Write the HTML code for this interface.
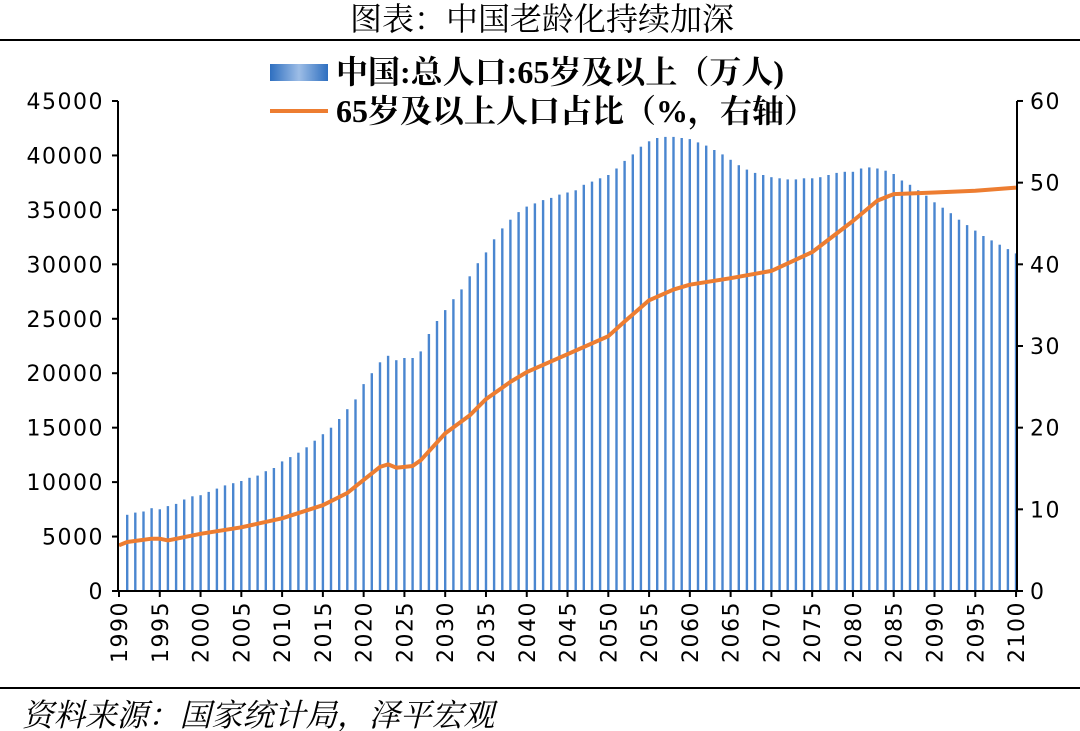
<!DOCTYPE html>
<html><head><meta charset="utf-8"><style>
body{margin:0;background:#fff;width:1080px;height:731px;overflow:hidden}
svg{display:block}
</style></head><body>
<svg id="s" width="1080" height="731" xmlns="http://www.w3.org/2000/svg" font-family="'DejaVu Sans','Noto Sans CJK SC',sans-serif">
<defs><linearGradient id="g" x1="0" x2="1" y1="0" y2="0"><stop offset="0" stop-color="#2e6fc0"/><stop offset="0.5" stop-color="#9dbde6"/><stop offset="1" stop-color="#2e6fc0"/></linearGradient></defs>
<text x="542" y="30" text-anchor="middle" font-size="32" font-family="'Noto Serif CJK SC','Noto Sans CJK SC',serif" fill="#000">图表：中国老龄化持续加深</text>
<line x1="0" y1="40" x2="1080" y2="40" stroke="#000" stroke-width="2"/>
<line x1="0" y1="688" x2="1080" y2="688" stroke="#000" stroke-width="2"/>
<text x="22" y="726" font-size="31.5" font-style="italic" font-family="'Noto Serif CJK SC','Noto Sans CJK SC',serif" fill="#000">资料来源：国家统计局，泽平宏观</text>
<g id="bars"></g>
<polyline id="ln" fill="none" stroke="#ed7d31" stroke-width="4" stroke-linejoin="round"/>
<line x1="118" y1="101" x2="118" y2="592" stroke="#000" stroke-width="2"/>
<line x1="1017" y1="101" x2="1017" y2="592" stroke="#000" stroke-width="2"/>
<line x1="117" y1="591" x2="1018" y2="591" stroke="#000" stroke-width="2"/>
<g id="ax" font-size="22" letter-spacing="1.5" fill="#000"></g>
<rect x="270" y="64" width="58" height="17" fill="url(#g)"/>
<text x="336" y="83" font-size="32" font-weight="bold" font-family="'Liberation Serif','Noto Serif CJK SC',serif">中国:总人口:65岁及以上（万人)</text>
<line x1="270" y1="111" x2="328" y2="111" stroke="#ed7d31" stroke-width="4"/>
<text x="336" y="122" font-size="32" font-weight="bold" font-family="'Liberation Serif','Noto Serif CJK SC',serif">65岁及以上人口占比（%，右轴）</text>
</svg>
<script>
var B=[0,7.0,7.2,7.3,7.6,7.5,7.8,8.0,8.4,8.7,8.8,9.1,9.4,9.7,9.9,10.1,10.4,10.6,11.0,11.3,11.9,12.3,12.7,13.2,13.8,14.4,15.0,15.8,16.7,17.6,19.0,20.0,21.0,21.6,21.2,21.4,21.4,22.0,23.6,24.8,25.8,26.8,27.7,28.9,30.1,31.1,32.3,33.3,34.1,34.8,35.3,35.6,35.9,36.1,36.4,36.6,36.8,37.3,37.6,37.9,38.2,38.8,39.5,40.1,40.8,41.3,41.6,41.7,41.7,41.6,41.5,41.2,40.9,40.5,40.1,39.6,39.1,38.7,38.4,38.2,38.0,37.9,37.8,37.8,37.9,37.9,38.0,38.2,38.4,38.5,38.5,38.8,38.9,38.8,38.6,38.3,37.7,37.3,36.8,36.3,35.7,35.2,34.7,34.1,33.6,33.1,32.6,32.2,31.8,31.4,31.0];
var K=[[1990,5.6],[1991,6.0],[1994,6.4],[1995,6.4],[1996,6.2],[2000,7.0],[2005,7.8],[2010,8.9],[2015,10.5],[2018,12],[2020,13.6],[2022,15.2],[2023,15.5],[2024,15.1],[2026,15.3],[2027,16],[2030,19.3],[2033,21.5],[2035,23.5],[2038,25.6],[2040,26.8],[2045,29],[2050,31.2],[2052,33],[2055,35.6],[2058,36.9],[2060,37.5],[2065,38.3],[2070,39.2],[2075,41.5],[2080,45.3],[2083,47.8],[2085,48.6],[2090,48.8],[2095,49],[2100,49.4]];
function X(y){return 119+(y-1990)*8.155}
var g=document.getElementById('bars'),h='';
for(var i=0;i<B.length;i++){if(!B[i])continue;var t=591-B[i]*10.889;h+='<rect x="'+(X(1990+i)-1.2).toFixed(1)+'" y="'+t.toFixed(1)+'" width="2.4" height="'+(591-t).toFixed(1)+'" fill="#4a86d0"/>';}
g.innerHTML=h;
var pts=[];
for(var j=0;j<K.length;j++)pts.push(X(K[j][0]).toFixed(1)+','+(591-K[j][1]*8.167).toFixed(1));
document.getElementById('ln').setAttribute('points',pts.join(' '));
var a='';
for(var v=0;v<=45000;v+=5000){var y=591-v*0.010889;a+='<line x1="112" y1="'+y+'" x2="118" y2="'+y+'" stroke="#000" stroke-width="2"/><text x="104" y="'+(y+8)+'" text-anchor="end">'+v+'</text>';}
for(var r=0;r<=60;r+=10){var y=591-r*8.167;a+='<line x1="1017" y1="'+y+'" x2="1023" y2="'+y+'" stroke="#000" stroke-width="2"/><text x="1030" y="'+(y+8)+'">'+r+'</text>';}
for(var yr=1990;yr<=2100;yr+=5){var x=X(yr);a+='<line x1="'+x+'" y1="591" x2="'+x+'" y2="597" stroke="#000" stroke-width="2"/><text transform="translate('+(x+8)+',601) rotate(-90)" text-anchor="end">'+yr+'</text>';}
document.getElementById('ax').innerHTML=a;
</script>
</body></html>
